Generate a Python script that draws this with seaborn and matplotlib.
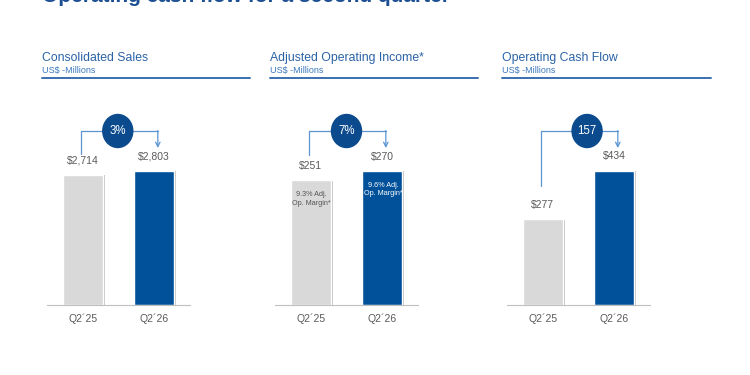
import matplotlib
matplotlib.use('Agg')
import matplotlib.pyplot as plt
import matplotlib.patheffects as pe
from matplotlib.patches import Ellipse
import seaborn as sns
import pandas as pd

sns.set_style('white')
plt.rcParams['font.family'] = ['Liberation Sans', 'DejaVu Sans']

# data
quarters = ["Q2\u00b425", "Q2\u00b426"]
panel_titles = ["Consolidated Sales", "Adjusted Operating Income*", "Operating Cash Flow"]
panel_units = ["US$ -Millions", "US$ -Millions", "US$ -Millions"]
sales = [2714, 2803]
adj_op_income = [251, 270]
op_cash_flow = [277, 434]
changes = ["3%", "7%", "157"]
margins = [None, ["9.3% Adj.\nOp. Margin*", "9.6% Adj.\nOp. Margin*"], None]

series = [sales, adj_op_income, op_cash_flow]

GRAY = '#d9d9d9'
BLUE = '#00509a'
DARK = '#0b4a8d'
LINE = '#5b93d3'
HEAD = '#2a62a6'
TXT = '#595959'

W, H = 750, 375
fig = plt.figure(figsize=(7.5, 3.75), dpi=100)

# slide title, cut off at the top edge
fig.text(42 / W, 1 - 1.5 / H, "Operating cash flow for a second quarter", fontsize=15,
         fontweight='bold', color='#1c4f93', va='baseline', ha='left')

ax_left = [47, 275, 507]
head_span = [(42, 250), (270, 478), (502, 711)]
bracket_gap = [21, 25, 33]      # px above first bar where bracket starts
ellipse_x = [0.49, 0.5, 0.62]
base_y, top_y = 305, 100
bar_px = 134.5

for i, vals in enumerate(series):
    # header
    x0, x1 = head_span[i]
    fig.text(x0 / W, 1 - 61 / H, panel_titles[i], fontsize=8.8, color=HEAD, ha='left', va='baseline')
    fig.text(x0 / W, 1 - 73 / H, panel_units[i], fontsize=6.5, color='#3b78bd', ha='left', va='baseline')
    fig.add_artist(plt.Line2D([x0 / W, x1 / W], [1 - 78 / H, 1 - 78 / H], color='#3a6fb0', lw=1.4))

    ax = fig.add_axes([ax_left[i] / W, 1 - base_y / H, 143 / W, (base_y - top_y) / H])
    df = pd.DataFrame({'q': quarters, 'v': vals})
    sns.barplot(data=df, x='q', y='v', hue='q', palette=[GRAY, BLUE], width=0.56,
                legend=False, ax=ax, saturation=1)
    for p in ax.patches:
        p.set_path_effects([pe.SimplePatchShadow(offset=(1.5, -0.5), shadow_rgbFace='#9a9a9a', alpha=0.6),
                            pe.Normal()])
    ymax = max(vals) * (base_y - top_y) / bar_px
    ax.set_xlim(-0.5, 1.5)
    ax.set_ylim(0, ymax)
    per_px = ymax / (base_y - top_y)
    for s in ['top', 'right', 'left']:
        ax.spines[s].set_visible(False)
    ax.spines['bottom'].set_color('#bfbfbf')
    ax.spines['bottom'].set_linewidth(0.8)
    ax.set_yticks([])
    ax.set_xlabel('')
    ax.set_ylabel('')
    ax.tick_params(axis='x', length=0, pad=6, labelsize=7.5, labelcolor=TXT)

    # value labels
    for j, v in enumerate(vals):
        ax.text(j, v + 14 * per_px, f"${v:,}", ha='center', va='center', fontsize=7.5, color=TXT)

    # inner margin labels
    if margins[i]:
        for j, lab in enumerate(margins[i]):
            ax.text(j + 0.01, vals[j] - 19 * per_px, lab, ha='center', va='center', fontsize=5.2,
                    color='#555555' if j == 0 else 'white', linespacing=1.25)

    # bracket with arrow
    yb = vals[0] + bracket_gap[i] * per_px
    yt = (base_y - 131) * per_px
    ya = (base_y - 148) * per_px
    ax.plot([-0.02, -0.02, 1.05], [yb, yt, yt], color=LINE, lw=0.9, clip_on=False)
    ax.annotate('', xy=(1.05, ya), xytext=(1.05, yt + 0.4 * per_px),
                arrowprops=dict(arrowstyle='->', color=LINE, lw=0.9, mutation_scale=8,
                                shrinkA=0, shrinkB=0), annotation_clip=False)
    ax.add_patch(Ellipse((ellipse_x[i], yt), 30 / 71.5, 33 * per_px, color=DARK, clip_on=False, zorder=5))
    ax.text(ellipse_x[i], yt, changes[i], ha='center', va='center', color='white', fontsize=8.3, zorder=6)

fig.savefig('out.png', dpi=100)
